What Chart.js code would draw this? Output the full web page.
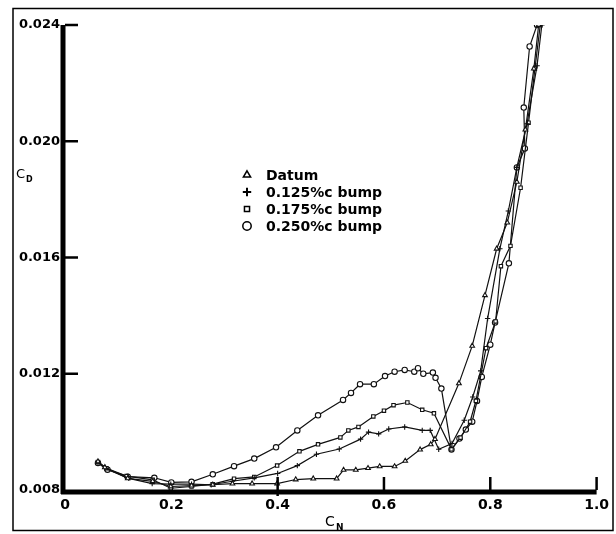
<!DOCTYPE html>
<html>
<head>
<meta charset="utf-8">
<script src="https://cdn.jsdelivr.net/npm/chart.js@4/dist/chart.umd.min.js"></script>
<style>
  html, body { margin: 0; padding: 0; background: #fff; }
  canvas { display: block; }
</style>
</head>
<body>
<canvas id="chart" width="616" height="534"></canvas>
<script>
'use strict';

// ── Data (CN, CD) ─────────────────────────────────────────────────────
const datumX = [0.062, 0.075, 0.118, 0.165, 0.199, 0.238, 0.278, 0.315, 0.352, 0.399, 0.434, 0.467, 0.511, 0.524, 0.547, 0.570, 0.592, 0.620, 0.640, 0.668, 0.688, 0.696, 0.741, 0.766, 0.790, 0.812, 0.832, 0.850, 0.866, 0.882, 0.891];
const datumY = [0.00898, 0.00878, 0.00840, 0.00830, 0.00812, 0.00815, 0.00818, 0.00822, 0.00822, 0.00822, 0.00836, 0.00839, 0.00839, 0.00869, 0.00869, 0.00875, 0.00881, 0.00881, 0.00900, 0.00939, 0.00957, 0.00975, 0.01167, 0.01296, 0.01470, 0.01630, 0.01720, 0.01860, 0.02040, 0.02250, 0.02400];

const bump125X = [0.062, 0.075, 0.120, 0.164, 0.199, 0.238, 0.275, 0.315, 0.356, 0.400, 0.437, 0.473, 0.516, 0.556, 0.571, 0.590, 0.609, 0.639, 0.672, 0.687, 0.703, 0.728, 0.751, 0.767, 0.782, 0.795, 0.818, 0.834, 0.850, 0.869, 0.888, 0.897];
const bump125Y = [0.00896, 0.00875, 0.00840, 0.00822, 0.00820, 0.00820, 0.00818, 0.00830, 0.00842, 0.00857, 0.00884, 0.00923, 0.00941, 0.00975, 0.00999, 0.00993, 0.01010, 0.01017, 0.01005, 0.01005, 0.00940, 0.00960, 0.01040, 0.01120, 0.01210, 0.01390, 0.01630, 0.01760, 0.01910, 0.02060, 0.02260, 0.02400];

const bump175X = [0.062, 0.078, 0.116, 0.165, 0.199, 0.238, 0.278, 0.318, 0.356, 0.399, 0.441, 0.476, 0.518, 0.533, 0.552, 0.580, 0.600, 0.618, 0.644, 0.672, 0.694, 0.727, 0.744, 0.762, 0.773, 0.792, 0.810, 0.820, 0.838, 0.857, 0.872, 0.884, 0.894];
const bump175Y = [0.00896, 0.00875, 0.00848, 0.00835, 0.00806, 0.00812, 0.00820, 0.00839, 0.00845, 0.00884, 0.00933, 0.00957, 0.00981, 0.01005, 0.01017, 0.01053, 0.01073, 0.01092, 0.01101, 0.01076, 0.01064, 0.00940, 0.00980, 0.01035, 0.01107, 0.01288, 0.01380, 0.01570, 0.01640, 0.01840, 0.02064, 0.02250, 0.02400];

const bump250X = [0.062, 0.080, 0.118, 0.168, 0.200, 0.238, 0.278, 0.318, 0.356, 0.397, 0.437, 0.476, 0.523, 0.538, 0.555, 0.581, 0.602, 0.620, 0.639, 0.657, 0.664, 0.674, 0.692, 0.697, 0.708, 0.727, 0.742, 0.754, 0.766, 0.775, 0.784, 0.800, 0.809, 0.835, 0.850, 0.865, 0.863, 0.874, 0.888];
const bump250Y = [0.00893, 0.00870, 0.00846, 0.00842, 0.00826, 0.00828, 0.00854, 0.00882, 0.00908, 0.00947, 0.01005, 0.01057, 0.01110, 0.01134, 0.01164, 0.01164, 0.01192, 0.01207, 0.01213, 0.01207, 0.01219, 0.01200, 0.01204, 0.01186, 0.01149, 0.00939, 0.00977, 0.01008, 0.01035, 0.01106, 0.01189, 0.01300, 0.01376, 0.01580, 0.01910, 0.01975, 0.02116, 0.02326, 0.02400];

const seriesNames = ['Datum', '0.125%c bump', '0.175%c bump', '0.250%c bump'];
const seriesMarkers = ['triangle', 'cross', 'rect', 'circle'];

const xTicks = [0, 0.2, 0.4, 0.6, 0.8, 1.0];
const yTicks = [0.008, 0.012, 0.016, 0.020, 0.024];
const xTickMarks = [0.4, 0.6, 0.8, 1.0];   // ticks visible on the bottom axis
const yTickMarks = [0.012, 0.016, 0.020, 0.024];

const FONT = 'DejaVu Sans';

function pairs(xs, ys) {
  return xs.map((x, i) => ({ x, y: ys[i] }));
}

function makeSet(i, xs, ys) {
  const marker = seriesMarkers[i];
  return {
    label: seriesNames[i],
    data: pairs(xs, ys),
    showLine: true,
    borderColor: '#111',
    borderWidth: 1.2,
    backgroundColor: '#fff',
    pointStyle: marker,
    pointRadius: marker === 'rect' ? 2.4 : 2.7,
    pointBorderWidth: 1.1,
    pointBorderColor: '#111',
    pointBackgroundColor: '#fff',
    tension: 0,
  };
}

// ── Frame, thick axes, inward ticks, titles, legend ───────────────────
const decorations = {
  id: 'decorations',
  beforeDraw(chart) {
    const ctx = chart.ctx;
    ctx.save();
    ctx.fillStyle = '#fff';
    ctx.fillRect(0, 0, chart.width, chart.height);
    ctx.restore();
  },
  afterDraw(chart) {
    const ctx = chart.ctx;
    const area = chart.chartArea;
    const xs = chart.scales.x;
    const ys = chart.scales.y;
    ctx.save();
    ctx.strokeStyle = '#000';
    ctx.fillStyle = '#000';

    // outer frame
    ctx.lineWidth = 1.5;
    ctx.strokeRect(13, 8.5, 600, 522);

    // thick axes
    ctx.lineWidth = 5;
    ctx.beginPath();
    ctx.moveTo(area.left - 2, ys.getPixelForValue(0.024));
    ctx.lineTo(area.left - 2, area.bottom + 4);
    ctx.moveTo(area.left - 4, area.bottom + 2);
    ctx.lineTo(xs.getPixelForValue(1.0), area.bottom + 2);
    ctx.stroke();

    // inward ticks
    ctx.lineWidth = 2.5;
    ctx.beginPath();
    yTickMarks.forEach(v => {
      const py = ys.getPixelForValue(v);
      ctx.moveTo(area.left, py);
      ctx.lineTo(area.left + 13, py);
    });
    xTickMarks.forEach(v => {
      const px = xs.getPixelForValue(v);
      ctx.moveTo(px, v === 0.4 ? area.bottom + 6 : area.bottom);
      ctx.lineTo(px, area.bottom - 13);
    });
    ctx.stroke();

    // axis titles with subscripts
    ctx.textBaseline = 'alphabetic';
    ctx.textAlign = 'left';
    ctx.font = `13px ${FONT}`;
    ctx.fillText('C', 16, 178);
    ctx.font = `bold 8px ${FONT}`;
    ctx.fillText('D', 26, 182);
    ctx.font = `14px ${FONT}`;
    ctx.fillText('C', 325, 526);
    ctx.font = `bold 9px ${FONT}`;
    ctx.fillText('N', 336, 530);

    // legend
    const rowY = [175, 192, 209, 226];
    ctx.font = `bold 14px ${FONT}`;
    ctx.textBaseline = 'middle';
    seriesNames.forEach((name, i) => {
      const marker = seriesMarkers[i];
      ctx.lineWidth = marker === 'cross' ? 2 : 1.5;
      ctx.strokeStyle = '#000';
      ctx.fillStyle = '#fff';
      Chart.helpers.drawPoint(ctx, {
        pointStyle: marker,
        radius: marker === 'rect' ? 3.6 : 4.2,
        rotation: 0,
        borderWidth: ctx.lineWidth,
      }, 247, rowY[i]);
      ctx.fillStyle = '#000';
      ctx.fillText(name, 266, rowY[i] + 1);
    });
    ctx.restore();
  },
};

const ctx = document.getElementById('chart');
new Chart(ctx, {
  type: 'scatter',
  data: {
    datasets: [
      makeSet(0, datumX, datumY),
      makeSet(1, bump125X, bump125Y),
      makeSet(2, bump175X, bump175Y),
      makeSet(3, bump250X, bump250Y),
    ],
  },
  options: {
    responsive: false,
    animation: false,
    layout: { padding: { left: 0, right: 18, top: 25, bottom: 0 } },
    plugins: {
      legend: { display: false },
      tooltip: { enabled: false },
    },
    scales: {
      x: {
        type: 'linear',
        min: 0, max: 1.0,
        afterFit: s => { s.height = 44; },
        afterBuildTicks: s => { s.ticks = xTicks.map(v => ({ value: v })); },
        grid: { display: false, drawTicks: false },
        border: { display: false },
        ticks: {
          color: '#000',
          padding: 7,
          font: { family: FONT, size: 14, weight: 'bold' },
          callback: v => (v === 0 ? '0' : v.toFixed(1)),
        },
      },
      y: {
        type: 'linear',
        min: 0.008, max: 0.024,
        afterFit: s => { s.width = 65; },
        afterBuildTicks: s => { s.ticks = yTicks.map(v => ({ value: v })); },
        grid: { display: false, drawTicks: false },
        border: { display: false },
        ticks: {
          color: '#000',
          padding: 5,
          font: { family: FONT, size: 13, weight: 'bold' },
          callback: v => v.toFixed(3),
        },
      },
    },
  },
  plugins: [decorations],
});
</script>
</body>
</html>
